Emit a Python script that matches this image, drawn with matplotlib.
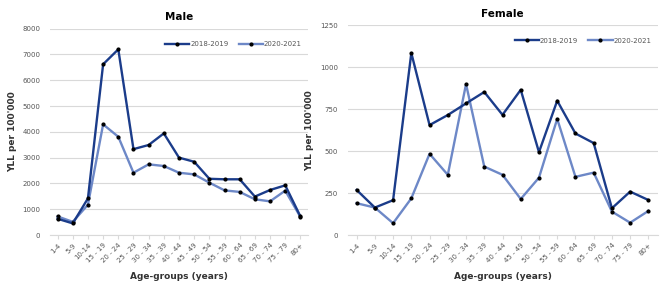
import matplotlib
matplotlib.use("Agg")
import matplotlib.pyplot as plt

# age groups shared by both panels
age_groups = ["1-4", "5-9", "10-14", "15 - 19", "20 - 24", "25 - 29", "30 - 34",
              "35 - 39", "40 - 44", "45 - 49", "50 - 54", "55 - 59", "60 - 64",
              "65 - 69", "70 - 74", "75 - 79", "80+"]

# YLL per 100'000
male_2018 = [630, 450, 1420, 6620, 7200, 3330, 3490, 3940, 3000, 2840,
             2180, 2160, 2160, 1490, 1745, 1925, 720]
male_2020 = [720, 510, 1175, 4290, 3810, 2415, 2740, 2675, 2415, 2350,
             2030, 1730, 1670, 1385, 1305, 1720, 700]

female_2018 = [270, 165, 209, 1085, 656, 716, 785, 853, 717, 866,
               495, 801, 606, 549, 161, 260, 210]
female_2020 = [191, 165, 72, 220, 485, 360, 900, 409, 360, 216,
               343, 693, 348, 373, 141, 75, 145]

DARK = "#1b3c8a"
LIGHT = "#6d88c7"
GRID = "#d9d9d9"


def draw_panel(ax, title, s2018, s2020, ymax, ystep):
    x = list(range(len(age_groups)))
    ax.plot(x, s2018, color=DARK, lw=1.7, marker="o", ms=2.0,
            mfc="black", mec="black", label="2018-2019", zorder=3)
    ax.plot(x, s2020, color=LIGHT, lw=1.7, marker="o", ms=2.0,
            mfc="black", mec="black", label="2020-2021", zorder=2)

    ax.set_xlim(-0.5, len(age_groups) - 0.5)
    ax.set_ylim(0, ymax)
    ax.set_yticks(range(0, ymax + 1, ystep))
    ax.set_xticks(x)
    ax.set_xticklabels(age_groups, rotation=45, ha="right",
                       rotation_mode="anchor", fontsize=5, color="#555555")
    ax.tick_params(axis="y", length=0, labelsize=5, labelcolor="#555555", pad=7)
    ax.tick_params(axis="x", length=3, color=GRID, pad=2)
    ax.grid(axis="y", color=GRID, lw=0.8)
    ax.set_axisbelow(True)
    for side in ("top", "right", "left"):
        ax.spines[side].set_visible(False)
    ax.spines["bottom"].set_color(GRID)

    ax.set_title(title, fontsize=7.5, fontweight="bold", pad=6)
    ax.set_ylabel("YLL per 100'000", fontsize=6.5, fontweight="bold", color="#333333")
    ax.set_xlabel("Age-groups (years)", fontsize=6.5, fontweight="bold",
                  color="#333333", labelpad=6)
    ax.legend(loc="upper right", ncol=2, frameon=False, fontsize=5,
              handlelength=3.5, handletextpad=0.1, columnspacing=1.5,
              bbox_to_anchor=(1.0, 0.97), labelcolor="#555555")


fig = plt.figure(figsize=(6.69, 2.92), dpi=100)
ax1 = fig.add_axes([50 / 669, 1 - 235 / 292, 258 / 669, (235 - 28.7) / 292])
ax2 = fig.add_axes([347.5 / 669, 1 - 235.3 / 292, 310 / 669, (235.3 - 25.3) / 292])

draw_panel(ax1, "Male", male_2018, male_2020, 8000, 1000)
draw_panel(ax2, "Female", female_2018, female_2020, 1250, 250)

fig.savefig("out.png", dpi=100)
